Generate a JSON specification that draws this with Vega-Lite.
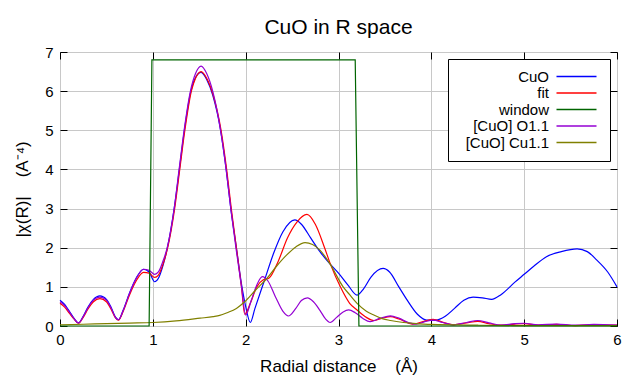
{
  "$schema": "https://vega.github.io/schema/vega-lite/v6.json",
  "width": 557,
  "height": 274,
  "autosize": {"type": "none"},
  "padding": {"left": 60, "top": 52, "right": 23, "bottom": 58},
  "background": "white",
  "title": {"text": "CuO in R space", "font": "Liberation Sans", "fontSize": 21, "fontWeight": "normal", "color": "black", "anchor": "middle", "baseline": "alphabetic", "offset": 20, "dy": 30},
  "config": {
    "view": {"stroke": "black", "strokeWidth": 1},
    "axis": {"labelFont": "Liberation Sans", "titleFont": "Liberation Sans", "labelFontSize": 15, "titleFontSize": 17, "titleFontWeight": "normal", "labelColor": "black", "titleColor": "black", "tickColor": "black", "domainColor": "black", "gridColor": "#c8c8c8", "gridWidth": 1, "tickSize": -7, "tickWidth": 1},
    "legend": {"labelFont": "Liberation Sans", "labelFontSize": 15, "labelColor": "black"}
  },
  "datasets": {
    "curves": [
      {"r": 0.00, "v": 0.66, "s": "CuO"}, {"r": 0.05, "v": 0.55, "s": "CuO"}, {"r": 0.10, "v": 0.38, "s": "CuO"}, {"r": 0.15, "v": 0.20, "s": "CuO"}, {"r": 0.20, "v": 0.08, "s": "CuO"}, {"r": 0.25, "v": 0.25, "s": "CuO"}, {"r": 0.30, "v": 0.48, "s": "CuO"}, {"r": 0.36, "v": 0.68, "s": "CuO"}, {"r": 0.43, "v": 0.77, "s": "CuO"}, {"r": 0.50, "v": 0.68, "s": "CuO"}, {"r": 0.55, "v": 0.48, "s": "CuO"}, {"r": 0.60, "v": 0.22, "s": "CuO"}, {"r": 0.63, "v": 0.16, "s": "CuO"}, {"r": 0.68, "v": 0.40, "s": "CuO"}, {"r": 0.75, "v": 0.85, "s": "CuO"}, {"r": 0.82, "v": 1.22, "s": "CuO"}, {"r": 0.90, "v": 1.45, "s": "CuO"}, {"r": 0.96, "v": 1.38, "s": "CuO"}, {"r": 1.02, "v": 1.13, "s": "CuO"}, {"r": 1.06, "v": 1.22, "s": "CuO"}, {"r": 1.11, "v": 1.55, "s": "CuO"}, {"r": 1.157, "v": 2.0, "s": "CuO"}, {"r": 1.23, "v": 3.0, "s": "CuO"}, {"r": 1.286, "v": 4.0, "s": "CuO"}, {"r": 1.34, "v": 5.0, "s": "CuO"}, {"r": 1.41, "v": 6.0, "s": "CuO"}, {"r": 1.46, "v": 6.35, "s": "CuO"}, {"r": 1.52, "v": 6.48, "s": "CuO"}, {"r": 1.58, "v": 6.30, "s": "CuO"}, {"r": 1.645, "v": 5.9, "s": "CuO"}, {"r": 1.73, "v": 5.0, "s": "CuO"}, {"r": 1.79, "v": 4.0, "s": "CuO"}, {"r": 1.84, "v": 3.0, "s": "CuO"}, {"r": 1.90, "v": 2.0, "s": "CuO"}, {"r": 1.96, "v": 1.0, "s": "CuO"}, {"r": 2.00, "v": 0.5, "s": "CuO"}, {"r": 2.05, "v": 0.09, "s": "CuO"}, {"r": 2.10, "v": 0.45, "s": "CuO"}, {"r": 2.20, "v": 1.15, "s": "CuO"}, {"r": 2.30, "v": 1.85, "s": "CuO"}, {"r": 2.40, "v": 2.4, "s": "CuO"}, {"r": 2.53, "v": 2.71, "s": "CuO"}, {"r": 2.60, "v": 2.6, "s": "CuO"}, {"r": 2.70, "v": 2.25, "s": "CuO"}, {"r": 2.80, "v": 1.9, "s": "CuO"}, {"r": 2.91, "v": 1.58, "s": "CuO"}, {"r": 3.00, "v": 1.35, "s": "CuO"}, {"r": 3.10, "v": 1.05, "s": "CuO"}, {"r": 3.20, "v": 0.79, "s": "CuO"}, {"r": 3.27, "v": 0.95, "s": "CuO"}, {"r": 3.35, "v": 1.25, "s": "CuO"}, {"r": 3.48, "v": 1.47, "s": "CuO"}, {"r": 3.55, "v": 1.38, "s": "CuO"}, {"r": 3.65, "v": 1.0, "s": "CuO"}, {"r": 3.74, "v": 0.66, "s": "CuO"}, {"r": 3.85, "v": 0.3, "s": "CuO"}, {"r": 3.95, "v": 0.15, "s": "CuO"}, {"r": 4.05, "v": 0.15, "s": "CuO"}, {"r": 4.15, "v": 0.25, "s": "CuO"}, {"r": 4.25, "v": 0.45, "s": "CuO"}, {"r": 4.35, "v": 0.66, "s": "CuO"}, {"r": 4.45, "v": 0.74, "s": "CuO"}, {"r": 4.55, "v": 0.72, "s": "CuO"}, {"r": 4.65, "v": 0.68, "s": "CuO"}, {"r": 4.75, "v": 0.80, "s": "CuO"}, {"r": 4.90, "v": 1.12, "s": "CuO"}, {"r": 5.00, "v": 1.32, "s": "CuO"}, {"r": 5.10, "v": 1.52, "s": "CuO"}, {"r": 5.24, "v": 1.77, "s": "CuO"}, {"r": 5.40, "v": 1.90, "s": "CuO"}, {"r": 5.57, "v": 1.97, "s": "CuO"}, {"r": 5.68, "v": 1.90, "s": "CuO"}, {"r": 5.78, "v": 1.69, "s": "CuO"}, {"r": 5.90, "v": 1.38, "s": "CuO"}, {"r": 6.00, "v": 1.00, "s": "CuO"},
      {"r": 0.00, "v": 0.58, "s": "fit"}, {"r": 0.05, "v": 0.48, "s": "fit"}, {"r": 0.10, "v": 0.33, "s": "fit"}, {"r": 0.15, "v": 0.18, "s": "fit"}, {"r": 0.20, "v": 0.07, "s": "fit"}, {"r": 0.25, "v": 0.22, "s": "fit"}, {"r": 0.30, "v": 0.43, "s": "fit"}, {"r": 0.36, "v": 0.62, "s": "fit"}, {"r": 0.43, "v": 0.70, "s": "fit"}, {"r": 0.50, "v": 0.62, "s": "fit"}, {"r": 0.55, "v": 0.43, "s": "fit"}, {"r": 0.60, "v": 0.20, "s": "fit"}, {"r": 0.63, "v": 0.15, "s": "fit"}, {"r": 0.68, "v": 0.37, "s": "fit"}, {"r": 0.75, "v": 0.80, "s": "fit"}, {"r": 0.82, "v": 1.15, "s": "fit"}, {"r": 0.90, "v": 1.37, "s": "fit"}, {"r": 0.96, "v": 1.35, "s": "fit"}, {"r": 1.02, "v": 1.24, "s": "fit"}, {"r": 1.06, "v": 1.30, "s": "fit"}, {"r": 1.11, "v": 1.58, "s": "fit"}, {"r": 1.16, "v": 2.0, "s": "fit"}, {"r": 1.235, "v": 3.0, "s": "fit"}, {"r": 1.29, "v": 4.0, "s": "fit"}, {"r": 1.345, "v": 5.0, "s": "fit"}, {"r": 1.415, "v": 6.0, "s": "fit"}, {"r": 1.46, "v": 6.33, "s": "fit"}, {"r": 1.52, "v": 6.50, "s": "fit"}, {"r": 1.58, "v": 6.33, "s": "fit"}, {"r": 1.65, "v": 5.9, "s": "fit"}, {"r": 1.735, "v": 5.0, "s": "fit"}, {"r": 1.795, "v": 4.0, "s": "fit"}, {"r": 1.845, "v": 3.0, "s": "fit"}, {"r": 1.90, "v": 2.0, "s": "fit"}, {"r": 1.955, "v": 1.0, "s": "fit"}, {"r": 1.99, "v": 0.30, "s": "fit"}, {"r": 2.05, "v": 0.58, "s": "fit"}, {"r": 2.12, "v": 1.0, "s": "fit"}, {"r": 2.19, "v": 1.18, "s": "fit"}, {"r": 2.25, "v": 1.22, "s": "fit"}, {"r": 2.35, "v": 1.65, "s": "fit"}, {"r": 2.45, "v": 2.25, "s": "fit"}, {"r": 2.55, "v": 2.65, "s": "fit"}, {"r": 2.66, "v": 2.85, "s": "fit"}, {"r": 2.75, "v": 2.6, "s": "fit"}, {"r": 2.85, "v": 2.0, "s": "fit"}, {"r": 2.91, "v": 1.60, "s": "fit"}, {"r": 3.02, "v": 1.0, "s": "fit"}, {"r": 3.12, "v": 0.58, "s": "fit"}, {"r": 3.20, "v": 0.41, "s": "fit"}, {"r": 3.30, "v": 0.22, "s": "fit"}, {"r": 3.38, "v": 0.14, "s": "fit"}, {"r": 3.47, "v": 0.20, "s": "fit"}, {"r": 3.56, "v": 0.24, "s": "fit"}, {"r": 3.65, "v": 0.18, "s": "fit"}, {"r": 3.80, "v": 0.05, "s": "fit"}, {"r": 3.92, "v": 0.12, "s": "fit"}, {"r": 4.02, "v": 0.17, "s": "fit"}, {"r": 4.12, "v": 0.10, "s": "fit"}, {"r": 4.24, "v": 0.03, "s": "fit"}, {"r": 4.38, "v": 0.08, "s": "fit"}, {"r": 4.50, "v": 0.12, "s": "fit"}, {"r": 4.62, "v": 0.06, "s": "fit"}, {"r": 4.75, "v": 0.02, "s": "fit"}, {"r": 4.90, "v": 0.05, "s": "fit"}, {"r": 5.00, "v": 0.06, "s": "fit"}, {"r": 5.15, "v": 0.02, "s": "fit"}, {"r": 5.35, "v": 0.04, "s": "fit"}, {"r": 5.55, "v": 0.01, "s": "fit"}, {"r": 5.75, "v": 0.03, "s": "fit"}, {"r": 6.00, "v": 0.02, "s": "fit"},
      {"r": 0.00, "v": 0.62, "s": "[CuO] O1.1"}, {"r": 0.05, "v": 0.52, "s": "[CuO] O1.1"}, {"r": 0.10, "v": 0.36, "s": "[CuO] O1.1"}, {"r": 0.15, "v": 0.19, "s": "[CuO] O1.1"}, {"r": 0.20, "v": 0.08, "s": "[CuO] O1.1"}, {"r": 0.25, "v": 0.24, "s": "[CuO] O1.1"}, {"r": 0.30, "v": 0.46, "s": "[CuO] O1.1"}, {"r": 0.36, "v": 0.66, "s": "[CuO] O1.1"}, {"r": 0.43, "v": 0.74, "s": "[CuO] O1.1"}, {"r": 0.50, "v": 0.66, "s": "[CuO] O1.1"}, {"r": 0.55, "v": 0.46, "s": "[CuO] O1.1"}, {"r": 0.60, "v": 0.21, "s": "[CuO] O1.1"}, {"r": 0.63, "v": 0.16, "s": "[CuO] O1.1"}, {"r": 0.68, "v": 0.39, "s": "[CuO] O1.1"}, {"r": 0.75, "v": 0.84, "s": "[CuO] O1.1"}, {"r": 0.82, "v": 1.21, "s": "[CuO] O1.1"}, {"r": 0.90, "v": 1.45, "s": "[CuO] O1.1"}, {"r": 0.96, "v": 1.42, "s": "[CuO] O1.1"}, {"r": 1.02, "v": 1.32, "s": "[CuO] O1.1"}, {"r": 1.06, "v": 1.38, "s": "[CuO] O1.1"}, {"r": 1.11, "v": 1.66, "s": "[CuO] O1.1"}, {"r": 1.155, "v": 2.0, "s": "[CuO] O1.1"}, {"r": 1.23, "v": 3.0, "s": "[CuO] O1.1"}, {"r": 1.283, "v": 4.0, "s": "[CuO] O1.1"}, {"r": 1.337, "v": 5.0, "s": "[CuO] O1.1"}, {"r": 1.405, "v": 6.0, "s": "[CuO] O1.1"}, {"r": 1.46, "v": 6.45, "s": "[CuO] O1.1"}, {"r": 1.52, "v": 6.64, "s": "[CuO] O1.1"}, {"r": 1.58, "v": 6.45, "s": "[CuO] O1.1"}, {"r": 1.645, "v": 6.0, "s": "[CuO] O1.1"}, {"r": 1.73, "v": 5.0, "s": "[CuO] O1.1"}, {"r": 1.79, "v": 4.0, "s": "[CuO] O1.1"}, {"r": 1.84, "v": 3.0, "s": "[CuO] O1.1"}, {"r": 1.895, "v": 2.0, "s": "[CuO] O1.1"}, {"r": 1.955, "v": 1.0, "s": "[CuO] O1.1"}, {"r": 2.00, "v": 0.28, "s": "[CuO] O1.1"}, {"r": 2.06, "v": 0.65, "s": "[CuO] O1.1"}, {"r": 2.12, "v": 1.05, "s": "[CuO] O1.1"}, {"r": 2.18, "v": 1.26, "s": "[CuO] O1.1"}, {"r": 2.24, "v": 1.15, "s": "[CuO] O1.1"}, {"r": 2.32, "v": 0.75, "s": "[CuO] O1.1"}, {"r": 2.40, "v": 0.38, "s": "[CuO] O1.1"}, {"r": 2.46, "v": 0.255, "s": "[CuO] O1.1"}, {"r": 2.54, "v": 0.45, "s": "[CuO] O1.1"}, {"r": 2.60, "v": 0.65, "s": "[CuO] O1.1"}, {"r": 2.665, "v": 0.72, "s": "[CuO] O1.1"}, {"r": 2.73, "v": 0.62, "s": "[CuO] O1.1"}, {"r": 2.80, "v": 0.40, "s": "[CuO] O1.1"}, {"r": 2.86, "v": 0.18, "s": "[CuO] O1.1"}, {"r": 2.91, "v": 0.09, "s": "[CuO] O1.1"}, {"r": 2.98, "v": 0.22, "s": "[CuO] O1.1"}, {"r": 3.05, "v": 0.36, "s": "[CuO] O1.1"}, {"r": 3.11, "v": 0.41, "s": "[CuO] O1.1"}, {"r": 3.18, "v": 0.34, "s": "[CuO] O1.1"}, {"r": 3.26, "v": 0.20, "s": "[CuO] O1.1"}, {"r": 3.34, "v": 0.11, "s": "[CuO] O1.1"}, {"r": 3.45, "v": 0.20, "s": "[CuO] O1.1"}, {"r": 3.56, "v": 0.26, "s": "[CuO] O1.1"}, {"r": 3.65, "v": 0.20, "s": "[CuO] O1.1"}, {"r": 3.76, "v": 0.08, "s": "[CuO] O1.1"}, {"r": 3.84, "v": 0.05, "s": "[CuO] O1.1"}, {"r": 3.93, "v": 0.11, "s": "[CuO] O1.1"}, {"r": 4.02, "v": 0.15, "s": "[CuO] O1.1"}, {"r": 4.12, "v": 0.09, "s": "[CuO] O1.1"}, {"r": 4.24, "v": 0.03, "s": "[CuO] O1.1"}, {"r": 4.38, "v": 0.09, "s": "[CuO] O1.1"}, {"r": 4.50, "v": 0.14, "s": "[CuO] O1.1"}, {"r": 4.62, "v": 0.08, "s": "[CuO] O1.1"}, {"r": 4.75, "v": 0.02, "s": "[CuO] O1.1"}, {"r": 4.90, "v": 0.06, "s": "[CuO] O1.1"}, {"r": 5.00, "v": 0.07, "s": "[CuO] O1.1"}, {"r": 5.15, "v": 0.03, "s": "[CuO] O1.1"}, {"r": 5.35, "v": 0.05, "s": "[CuO] O1.1"}, {"r": 5.55, "v": 0.02, "s": "[CuO] O1.1"}, {"r": 5.75, "v": 0.04, "s": "[CuO] O1.1"}, {"r": 6.00, "v": 0.02, "s": "[CuO] O1.1"},
      {"r": 0.00, "v": 0.03, "s": "[CuO] Cu1.1"}, {"r": 0.25, "v": 0.045, "s": "[CuO] Cu1.1"}, {"r": 0.50, "v": 0.06, "s": "[CuO] Cu1.1"}, {"r": 0.75, "v": 0.075, "s": "[CuO] Cu1.1"}, {"r": 1.00, "v": 0.09, "s": "[CuO] Cu1.1"}, {"r": 1.25, "v": 0.13, "s": "[CuO] Cu1.1"}, {"r": 1.51, "v": 0.20, "s": "[CuO] Cu1.1"}, {"r": 1.65, "v": 0.24, "s": "[CuO] Cu1.1"}, {"r": 1.72, "v": 0.27, "s": "[CuO] Cu1.1"}, {"r": 1.80, "v": 0.34, "s": "[CuO] Cu1.1"}, {"r": 1.90, "v": 0.45, "s": "[CuO] Cu1.1"}, {"r": 1.99, "v": 0.62, "s": "[CuO] Cu1.1"}, {"r": 2.10, "v": 0.90, "s": "[CuO] Cu1.1"}, {"r": 2.23, "v": 1.22, "s": "[CuO] Cu1.1"}, {"r": 2.33, "v": 1.52, "s": "[CuO] Cu1.1"}, {"r": 2.44, "v": 1.81, "s": "[CuO] Cu1.1"}, {"r": 2.54, "v": 2.02, "s": "[CuO] Cu1.1"}, {"r": 2.64, "v": 2.13, "s": "[CuO] Cu1.1"}, {"r": 2.72, "v": 2.08, "s": "[CuO] Cu1.1"}, {"r": 2.80, "v": 1.94, "s": "[CuO] Cu1.1"}, {"r": 2.91, "v": 1.58, "s": "[CuO] Cu1.1"}, {"r": 3.05, "v": 1.0, "s": "[CuO] Cu1.1"}, {"r": 3.12, "v": 0.80, "s": "[CuO] Cu1.1"}, {"r": 3.20, "v": 0.58, "s": "[CuO] Cu1.1"}, {"r": 3.30, "v": 0.38, "s": "[CuO] Cu1.1"}, {"r": 3.38, "v": 0.28, "s": "[CuO] Cu1.1"}, {"r": 3.47, "v": 0.19, "s": "[CuO] Cu1.1"}, {"r": 3.56, "v": 0.14, "s": "[CuO] Cu1.1"}, {"r": 3.70, "v": 0.09, "s": "[CuO] Cu1.1"}, {"r": 3.80, "v": 0.07, "s": "[CuO] Cu1.1"}, {"r": 4.00, "v": 0.04, "s": "[CuO] Cu1.1"}, {"r": 4.50, "v": 0.02, "s": "[CuO] Cu1.1"}, {"r": 5.00, "v": 0.01, "s": "[CuO] Cu1.1"}, {"r": 6.00, "v": 0.01, "s": "[CuO] Cu1.1"}
    ],
    "window": [
      {"r": 0.00, "v": 0, "s": "window"}, {"r": 0.96, "v": 0, "s": "window"}, {"r": 0.99, "v": 6.8, "s": "window"}, {"r": 3.18, "v": 6.8, "s": "window"}, {"r": 3.22, "v": 0, "s": "window"}, {"r": 6.00, "v": 0, "s": "window"}
    ]
  },
  "resolve": {"axis": {"x": "independent", "y": "independent"}},
  "layer": [
    {
      "data": {"name": "curves"},
      "mark": {"type": "line", "interpolate": "monotone", "strokeWidth": 1.2},
      "encoding": {
        "x": {"field": "r", "type": "quantitative", "scale": {"domain": [0, 6], "nice": false, "zero": false},
              "axis": {"values": [0, 1, 2, 3, 4, 5, 6], "grid": true, "domain": false, "labelPadding": 13, "title": "Radial distance\u00a0\u00a0\u00a0\u00a0(Å)", "titlePadding": 11, "labelFlush": false}},
        "y": {"field": "v", "type": "quantitative", "scale": {"domain": [0, 7], "nice": false},
              "axis": {"values": [0, 1, 2, 3, 4, 5, 6, 7], "grid": true, "domain": false, "labelPadding": 14, "title": "|χ(R)|\u00a0\u00a0\u00a0\u00a0(A⁻⁴)", "titlePadding": 13}},
        "color": {"field": "s", "type": "nominal",
                  "scale": {"domain": ["CuO", "fit", "window", "[CuO] O1.1", "[CuO] Cu1.1"], "range": ["#0000ff", "#ff0000", "#006400", "#9400d3", "#808000"]},
                  "legend": {"title": null, "orient": "top-right", "offset": 7, "strokeColor": "black", "fillColor": "white", "padding": 10, "symbolType": "M-4,0H4", "symbolSize": 100, "symbolStrokeWidth": 1.3, "labelAlign": "right", "symbolOffset": 111, "labelOffset": -35, "rowPadding": 0.5, "labelLimit": 200,
                             "encode": {"symbols": {"update": {"stroke": {"scale": "color", "field": "value"}, "fill": {"value": "transparent"}, "strokeWidth": {"value": 1.3}}}}}},
        "detail": {"field": "s"}
      }
    },
    {
      "data": {"name": "window"},
      "mark": {"type": "line", "strokeWidth": 1.2},
      "encoding": {
        "x": {"field": "r", "type": "quantitative", "axis": null},
        "y": {"field": "v", "type": "quantitative", "axis": null},
        "color": {"field": "s", "type": "nominal"}
      }
    },
    {
      "data": {"name": "window"},
      "mark": {"type": "line", "opacity": 0},
      "encoding": {
        "x": {"field": "r", "type": "quantitative", "axis": {"orient": "top", "values": [0, 1, 2, 3, 4, 5, 6], "labels": false, "grid": false, "domain": false, "title": null}},
        "y": {"field": "v", "type": "quantitative", "axis": {"orient": "right", "values": [0, 1, 2, 3, 4, 5, 6, 7], "labels": false, "grid": false, "domain": false, "title": null}}
      }
    }
  ]
}
